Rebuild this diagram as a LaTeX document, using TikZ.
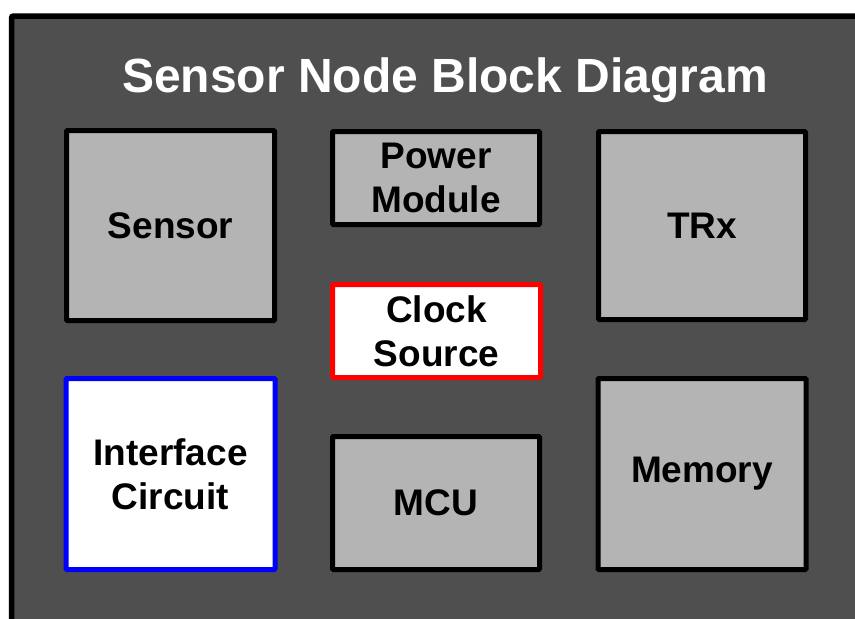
\documentclass[tikz,border=0pt]{standalone}
\usepackage{fontspec}
\setmainfont{Liberation Sans}
\usepackage{xcolor}
\usetikzlibrary{positioning}

\definecolor{panelgray}{RGB}{79,79,79}
\definecolor{blockgray}{RGB}{180,180,180}

\begin{document}
\begin{tikzpicture}[x=1pt, y=-1pt,
    block/.style={draw=black, line width=5pt, fill=blockgray, rounded corners=1pt,
        inner sep=0pt, align=center, font=\fontsize{37}{44}\selectfont\bfseries},
    plain/.style={block, fill=white}]
    \useasboundingbox (0,0) rectangle (855,619);
    \clip (0,0) rectangle (855,619);

    % Panou
    \draw[line width=5.5pt, fill=panelgray, rounded corners=2pt] (11.5,16) rectangle (880,650);
    \node[text=white, font=\fontsize{48}{56}\selectfont\bfseries] (title) at (445,80) {Sensor Node Block Diagram};

    % Blocuri
    \node[block, minimum width=208pt, minimum height=190pt] (sensor) at (170.5,225.5) {Sensor};
    \node[block, minimum width=207pt, minimum height=93pt] (power) at (436,178) {Power\\Module};
    \node[block, minimum width=207pt, minimum height=188pt] (trx) at (702,225.5) {TRx};
    \node[plain, draw=red, minimum width=208pt, minimum height=93pt] (clock) at (436.5,331) {Clock\\Source};
    \node[plain, draw=blue, minimum width=209pt, minimum height=191pt] (iface) at (170.5,474) {Interface\\Circuit};
    \node[block, minimum width=207pt, minimum height=133pt] (mcu) at (436,503) {MCU};
    \node[block, minimum width=208pt, minimum height=191pt] (memory) at (702,474) {Memory};
\end{tikzpicture}
\end{document}
